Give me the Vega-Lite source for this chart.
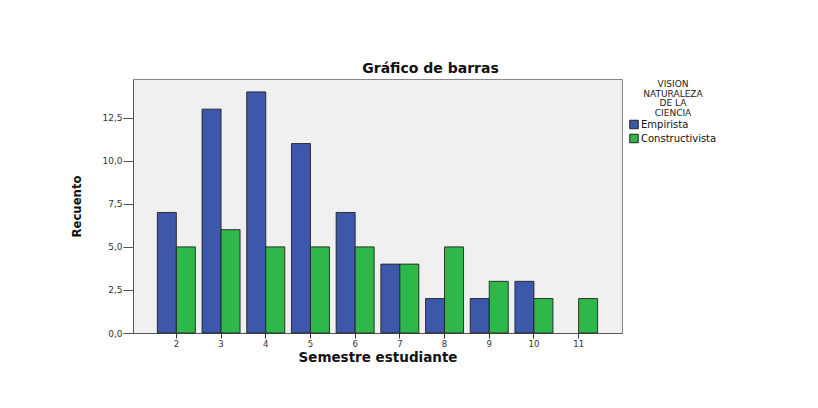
{
  "$schema": "https://vega.github.io/schema/vega-lite/v6.json",
  "autosize": "none",
  "width": 489,
  "height": 254,
  "padding": {"left": 133, "top": 79, "right": 196, "bottom": 75},
  "background": "white",
  "title": {
    "text": "Gráfico de barras",
    "font": "DejaVu Sans",
    "fontSize": 14,
    "fontWeight": "bold",
    "color": "#111",
    "anchor": "middle",
    "dx": 53,
    "offset": 3
  },
  "data": {
    "values": [
      {"semestre": 2, "vision": "Empirista", "recuento": 7},
      {"semestre": 2, "vision": "Constructivista", "recuento": 5},
      {"semestre": 3, "vision": "Empirista", "recuento": 13},
      {"semestre": 3, "vision": "Constructivista", "recuento": 6},
      {"semestre": 4, "vision": "Empirista", "recuento": 14},
      {"semestre": 4, "vision": "Constructivista", "recuento": 5},
      {"semestre": 5, "vision": "Empirista", "recuento": 11},
      {"semestre": 5, "vision": "Constructivista", "recuento": 5},
      {"semestre": 6, "vision": "Empirista", "recuento": 7},
      {"semestre": 6, "vision": "Constructivista", "recuento": 5},
      {"semestre": 7, "vision": "Empirista", "recuento": 4},
      {"semestre": 7, "vision": "Constructivista", "recuento": 4},
      {"semestre": 8, "vision": "Empirista", "recuento": 2},
      {"semestre": 8, "vision": "Constructivista", "recuento": 5},
      {"semestre": 9, "vision": "Empirista", "recuento": 2},
      {"semestre": 9, "vision": "Constructivista", "recuento": 3},
      {"semestre": 10, "vision": "Empirista", "recuento": 3},
      {"semestre": 10, "vision": "Constructivista", "recuento": 2},
      {"semestre": 11, "vision": "Constructivista", "recuento": 2}
    ]
  },
  "mark": {"type": "bar", "stroke": "#222", "strokeWidth": 1, "strokeOpacity": 0.9},
  "encoding": {
    "x": {
      "field": "semestre",
      "type": "ordinal",
      "scale": {"paddingInner": 0.15, "paddingOuter": 0.545},
      "axis": {
        "title": "Semestre estudiante",
        "titleFont": "DejaVu Sans",
        "titleFontSize": 13.5,
        "titleFontWeight": "bold",
        "titleColor": "#111",
        "titlePadding": 3,
        "labelFont": "DejaVu Sans",
        "labelFontSize": 8.5,
        "labelColor": "#333",
        "labelAngle": 0,
        "labelPadding": 1,
        "tickSize": 5,
        "tickColor": "#333",
        "domainColor": "#555",
        "grid": false
      }
    },
    "xOffset": {
      "field": "vision",
      "type": "nominal",
      "sort": ["Empirista", "Constructivista"],
      "scale": {"paddingInner": 0}
    },
    "y": {
      "field": "recuento",
      "type": "quantitative",
      "scale": {"domain": [0, 14.75], "nice": false},
      "axis": {
        "title": "Recuento",
        "titleFont": "DejaVu Sans Condensed, DejaVu Sans",
        "titleFontSize": 13,
        "titleFontWeight": "bold",
        "titleColor": "#111",
        "titlePadding": 18,
        "values": [0, 2.5, 5, 7.5, 10, 12.5],
        "labelExpr": "replace(format(datum.value, '.1f'), '.', ',')",
        "labelFont": "DejaVu Sans",
        "labelFontSize": 9,
        "labelColor": "#333",
        "labelPadding": 1,
        "tickSize": 10,
        "tickColor": "#555",
        "domainColor": "#555",
        "grid": false
      }
    },
    "color": {
      "field": "vision",
      "type": "nominal",
      "sort": ["Empirista", "Constructivista"],
      "scale": {"domain": ["Empirista", "Constructivista"], "range": ["#3d57aa", "#2fb84a"]},
      "legend": {
        "title": ["VISION", "NATURALEZA", "DE LA", "CIENCIA"],
        "orient": "none",
        "legendX": 496,
        "legendY": 1,
        "titleFont": "DejaVu Sans",
        "titleFontSize": 9,
        "titleFontWeight": "normal",
        "titleColor": "#222",
        "titleLineHeight": 9.5,
        "titleAnchor": "middle",
        "titleAlign": "center",
        "titlePadding": 2,
        "labelFont": "DejaVu Sans",
        "labelFontSize": 10,
        "labelColor": "#111",
        "labelOffset": 2,
        "symbolType": "square",
        "symbolSize": 72,
        "symbolStrokeColor": "#222",
        "symbolStrokeWidth": 1,
        "symbolOpacity": 1,
        "rowPadding": 0,
        "padding": 0
      }
    }
  },
  "config": {
    "view": {"fill": "#f0f0f0", "stroke": "#888", "strokeWidth": 1}
  }
}
